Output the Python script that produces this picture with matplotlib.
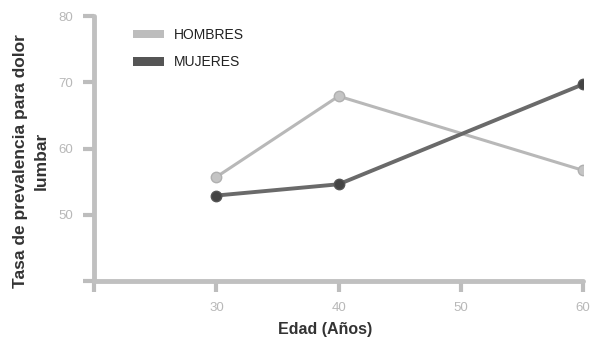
import matplotlib.pyplot as plt
from matplotlib.patches import Patch

edades = [30, 40, 60]
hombres = [55.7, 67.9, 56.7]
mujeres = [52.9, 54.6, 69.7]
xticks = [20, 30, 40, 50, 60]
xticklabels = ['', '30', '40', '50', '60']
yticks = [40, 50, 60, 70, 80]
yticklabels = ['', '50', '60', '70', '80']

plt.rcParams['font.family'] = ['Liberation Sans', 'DejaVu Sans']

fig = plt.figure(figsize=(5.92, 3.41), dpi=100)
ax = fig.add_axes([0.159, 0.176, 0.826, 0.777])

c_h = '#b8b8b8'
c_m = '#6a6a6a'
ax.plot(edades, hombres, color=c_h, lw=2.2, marker='o', ms=7.5,
        mfc='#c4c4c4', mec='#b0b0b0', zorder=3)
ax.plot(edades, mujeres, color=c_m, lw=2.8, marker='o', ms=7.5,
        mfc='#444444', mec='#555555', zorder=4)

ax.set_xlim(20, 60)
ax.set_ylim(40, 80)
ax.set_xticks(xticks)
ax.set_xticklabels(xticklabels)
ax.set_yticks(yticks)
ax.set_yticklabels(yticklabels)

for s in ['top', 'right']:
    ax.spines[s].set_visible(False)
for s in ['left', 'bottom']:
    ax.spines[s].set_color('#c0c0c0')
    ax.spines[s].set_linewidth(3.5)
    ax.spines[s].set_capstyle('round')
ax.tick_params(axis='both', length=8, width=3, color='#bdbdbd',
               labelcolor='#b8b8b8', labelsize=9.5, pad=7)
for lab in ax.get_xticklabels() + ax.get_yticklabels():
    lab.set_clip_on(False)

ax.set_xlabel('Edad (Años)', fontsize=11.5, fontweight='bold',
              color='#333333')
ax.xaxis.set_label_coords(0.472, -0.155)
ax.set_ylabel('Tasa de prevalencia para dolor\nlumbar', fontsize=12.5,
              fontweight='bold', color='#333333', linespacing=1.55)
ax.yaxis.set_label_coords(-0.092, 0.453)

handles = [Patch(facecolor='#bdbdbd', edgecolor='none', label='HOMBRES'),
           Patch(facecolor='#555555', edgecolor='none', label='MUJERES')]
leg = ax.legend(handles=handles, loc='upper left', frameon=False,
                bbox_to_anchor=(0.08, 0.955), fontsize=10,
                borderaxespad=0, borderpad=0,
                handlelength=2.2, handleheight=0.6, handletextpad=0.7,
                labelspacing=0.95)
for t in leg.get_texts():
    t.set_color('#222222')

fig.savefig('out.png', dpi=100)
